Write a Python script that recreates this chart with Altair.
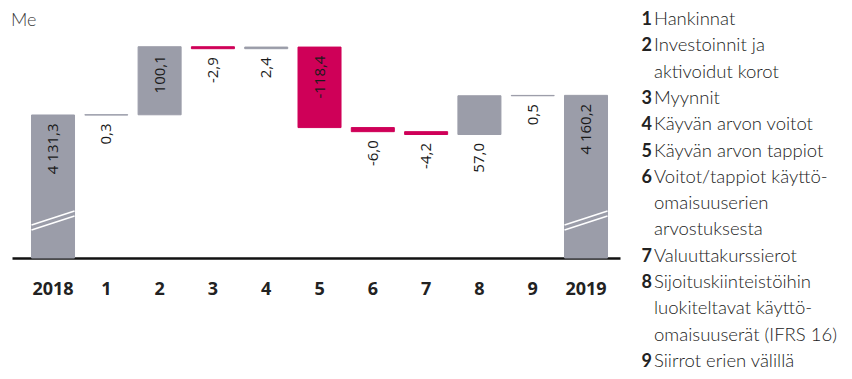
import altair as alt
import pandas as pd

# ---- data ----
categories = ["2018", "1", "2", "3", "4", "5", "6", "7", "8", "9", "2019"]
start_total = 4131.3
end_total = 4160.2
changes = [0.3, 100.1, -2.9, 2.4, -118.4, -6.0, -4.2, 57.0, 0.5]

legend_numbers = ["1", "2", "3", "4", "5", "6", "7", "8", "9"]
legend_lines = [
    ["Hankinnat"],
    ["Investoinnit ja", "aktivoidut korot"],
    ["Myynnit"],
    ["Käyvän arvon voitot"],
    ["Käyvän arvon tappiot"],
    ["Voitot/tappiot käyttö-", "omaisuuserien", "arvostuksesta"],
    ["Valuuttakurssierot"],
    ["Sijoituskiinteistöihin", "luokiteltavat käyttö-", "omaisuuserät (IFRS 16)"],
    ["Siirrot erien välillä"],
]
unit_label = "Me"

# ---- styling constants ----
GRAY = "#9b9da9"
MAGENTA = "#cf0058"
AXIS_BASE = 3921.0      # value at the (broken) axis line
AXIS_TOP = 4256.3
BREAK_1 = (3969.5, 3990.1)
BREAK_2 = (3962.2, 3982.8)


def fi(v):
    s = f"{abs(v):,.1f}".replace(",", " ").replace(".", ",")
    return ("-" if v < 0 else "") + s


rows = []
rows.append(dict(cat=categories[0], lo=AXIS_BASE, hi=start_total, color=GRAY,
                 label=fi(start_total), inside=True))
level = start_total
for cat, d in zip(categories[1:-1], changes):
    new = level + d
    rows.append(dict(cat=cat, lo=min(level, new), hi=max(level, new),
                     color=GRAY if d >= 0 else MAGENTA, label=fi(d),
                     inside=abs(d) > 80))
    level = new
rows.append(dict(cat=categories[-1], lo=AXIS_BASE, hi=end_total, color=GRAY,
                 label=fi(end_total), inside=True))
df = pd.DataFrame(rows)
df["label_y"] = [r.hi if r.inside else r.lo for r in df.itertuples()]

breaks = pd.DataFrame(
    [dict(cat=c, y0=b[0], y1=b[1]) for c in (categories[0], categories[-1]) for b in (BREAK_1, BREAK_2)]
)

unit_df = pd.DataFrame({"t": [unit_label]})

x_enc = alt.X(
    "cat:N",
    sort=categories,
    scale=alt.Scale(paddingInner=0.193, paddingOuter=0.30, align=0.61, round=False),
    axis=alt.Axis(
        title=None, labelAngle=0, labelFont="Open Sans", labelFontWeight="bold",
        labelFontSize=18, labelColor="#222222", domainColor="#111111", domainWidth=2.5,
        ticks=False, tickSize=0, labelPadding=22, grid=False,
    ),
)
y_scale = alt.Scale(domain=[AXIS_BASE, AXIS_TOP], zero=False, nice=False)

bars = alt.Chart(df).mark_bar(strokeWidth=1).encode(
    x=x_enc,
    y=alt.Y("lo:Q", scale=y_scale, axis=None),
    y2="hi:Q",
    color=alt.Color("color:N", scale=None),
    stroke=alt.Stroke("color:N", scale=None),
)

break_rules = alt.Chart(breaks).mark_rule(color="white", strokeWidth=1.5).encode(
    x=alt.X("cat:N", sort=categories, bandPosition=0),
    x2=alt.X2("cat:N", bandPosition=1),
    y=alt.Y("y0:Q", scale=y_scale, axis=None),
    y2="y1:Q",
)

labels = alt.Chart(df).mark_text(
    angle=270, align="right", baseline="middle", dx=-8.5,
    font="Open Sans", fontSize=15, color="#1a1a1a",
).encode(
    x=alt.X("cat:N", sort=categories),
    y=alt.Y("label_y:Q", scale=y_scale, axis=None),
    text="label:N",
)

unit = alt.Chart(unit_df).mark_text(
    align="left", baseline="alphabetic", font="Lato", fontWeight=300,
    fontSize=18, color="#3a3a3a",
).encode(x=alt.value(-1), y=alt.value(-4), text="t:N")

# ---- legend: one number mark and one (multi-line) text mark per item ----
LEG_Y = -5
LEG_LH = 26.3
legend_layers = []
line_idx = 0
for n, lines in zip(legend_numbers, legend_lines):
    item_df = pd.DataFrame({"num": [n], "txt": ["\n".join(lines)]})
    ypos = LEG_Y + line_idx * LEG_LH
    legend_layers.append(
        alt.Chart(item_df).mark_text(
            align="left", baseline="alphabetic", font="Lato", fontWeight="bold",
            fontSize=18, color="#222222",
        ).encode(x=alt.value(629.5), y=alt.value(ypos), text="num:N")
    )
    legend_layers.append(
        alt.Chart(item_df).mark_text(
            align="left", baseline="alphabetic", font="Lato", fontWeight=300,
            fontSize=18.5, color="#222222", lineBreak="\n", lineHeight=LEG_LH,
        ).encode(x=alt.value(642), y=alt.value(ypos), text="txt:N")
    )
    line_idx += len(lines)

chart = alt.layer(bars, break_rules, labels, unit, *legend_layers).properties(
    width=608, height=228,
    autosize=alt.AutoSizeParams(type="none"),
    padding={"left": 4, "top": 22, "right": 224, "bottom": 113},
).configure_view(stroke=None)

chart.save("out.html", embed_options={"renderer": "svg", "actions": False})
